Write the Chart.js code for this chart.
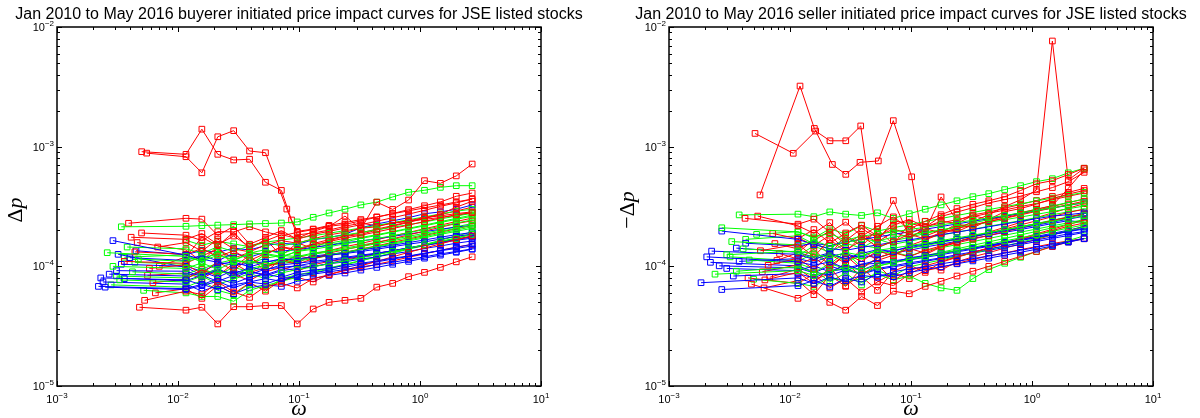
<!DOCTYPE html>
<html>
<head>
<meta charset="utf-8">
<script src="https://cdn.jsdelivr.net/npm/chart.js@4.4.1/dist/chart.umd.min.js"></script>
<style>
  html, body { margin: 0; padding: 0; background: #fff; }
  #wrap { position: relative; width: 1200px; height: 418px; overflow: hidden; }
  canvas { position: absolute; top: 0; }
  #buy { left: 0; }
  #sell { left: 600px; }
</style>
</head>
<body>
<div id="wrap">
  <canvas id="buy" width="600" height="418"></canvas>
  <canvas id="sell" width="600" height="418"></canvas>
</div>
<script>
// Normalised volume bins (ω) shared by most curves
const omegaBins = [0.01164, 0.01575, 0.02132, 0.02885, 0.03904, 0.05284, 0.07151, 0.09678, 0.1310,
                   0.1772, 0.2399, 0.3246, 0.4393, 0.5945, 0.8046, 1.089, 1.474, 1.994, 2.699];

// Decade tick labels (10^e)
const xTickExponents = [-3, -2, -1, 0, 1];
const yTickExponents = [-5, -4, -3, -2];

// Δp rows are stored in units of 1e-5.
// Each row: [value at the curve's own first ω, then one value per omegaBins entry]
const DP_UNIT = 1e-5;

// ---------- buyer initiated ----------
const buyBlueLead = [0.0022, 0.0023, 0.0025, 0.0029, 0.0031, 0.0034, 0.0036, 0.0040, 0.0027, 0.0045, 0.0024, 0.0032];
const buyBlue = [
  [6.8, 6.5, 7.1, 6.4, 7.0, 7.4, 7.1, 7.9, 8.2, 8.6, 9.0, 9.4, 9.9, 10.3, 10.8, 11.4, 12.0, 12.7, 13.3, 14.0],
  [8.0, 7.7, 7.0, 7.9, 7.2, 8.1, 8.6, 8.1, 8.9, 9.3, 9.6, 10.2, 10.6, 11.1, 11.7, 12.2, 12.9, 13.5, 14.1, 14.8],
  [6.7, 6.4, 6.9, 7.5, 6.6, 7.4, 7.9, 7.5, 8.5, 8.8, 9.3, 9.8, 10.4, 10.9, 11.5, 12.1, 12.8, 13.6, 14.4, 15.3],
  [16.4, 12.4, 11.5, 10.8, 10.2, 10.6, 10.9, 11.3, 11.6, 11.9, 12.4, 12.8, 13.3, 13.9, 14.6, 15.3, 16.0, 16.9, 17.8, 18.6],
  [9.2, 9.1, 8.2, 9.4, 8.6, 9.8, 9.3, 10.3, 10.6, 11.0, 11.4, 11.9, 12.4, 12.9, 13.5, 14.2, 14.9, 15.7, 16.5, 17.2],
  [10.4, 10.0, 9.1, 10.4, 10.9, 9.9, 10.8, 11.6, 11.2, 12.2, 12.6, 13.1, 13.7, 14.3, 15.0, 15.8, 16.6, 17.5, 18.4, 19.2],
  [7.9, 7.6, 8.4, 7.5, 8.4, 9.1, 8.3, 9.2, 9.6, 10.0, 10.5, 10.9, 11.5, 12.0, 12.7, 13.3, 14.1, 14.8, 15.6, 16.3],
  [11.8, 11.2, 12.4, 11.1, 12.9, 11.9, 13.2, 13.4, 13.8, 14.4, 15.0, 15.7, 16.3, 17.0, 17.8, 18.6, 19.5, 20.4, 21.3, 22.0],
  [8.6, 8.3, 9.0, 8.1, 9.3, 8.5, 9.5, 9.8, 10.1, 10.7, 11.1, 11.7, 12.2, 12.8, 13.5, 14.3, 15.1, 16.0, 16.9, 17.8],
  [13.5, 12.5, 13.6, 13.1, 14.2, 13.7, 14.9, 15.6, 15.2, 16.7, 17.4, 18.5, 21.0, 22.6, 24.0, 25.5, 27.5, 28.5, 30.0, 32.6],
  [7.4, 7.1, 6.2, 6.9, 5.9, 6.6, 7.0, 6.8, 7.5, 7.9, 8.4, 8.8, 9.3, 9.8, 10.4, 11.0, 11.7, 12.4, 13.1, 13.9],
  [12.6, 9.8, 8.4, 9.6, 8.0, 9.1, 8.5, 9.4, 10.2, 9.9, 10.6, 11.3, 11.9, 12.6, 13.4, 14.2, 15.0, 15.9, 16.8, 17.6]
];
const buyGreenLead = [0.0034, 0.0026, 0.0029, 0.0033, 0.0038, 0.0042, 0.0047, 0.0052, 0.0031, null, 0.0044, 0.0028, 0.0036];
const buyGreen = [
  [21.4, 21.6, 21.9, 22.1, 22.3, 22.6, 22.8, 23.0, 23.5, 25.7, 27.9, 30.0, 32.6, 34.4, 38.0, 41.6, 43.2, 45.7, 47.2, 47.2],
  [13.0, 12.1, 11.0, 12.4, 11.2, 12.7, 12.8, 12.1, 13.3, 13.9, 14.6, 15.4, 16.2, 17.1, 18.0, 19.1, 20.3, 21.6, 23.0, 24.4],
  [10.0, 9.6, 10.7, 9.4, 10.9, 11.1, 10.2, 11.5, 12.0, 12.6, 13.2, 13.9, 14.6, 15.5, 16.4, 17.3, 18.4, 19.6, 20.8, 22.0],
  [7.7, 7.4, 8.3, 7.1, 7.8, 8.7, 7.9, 8.8, 9.4, 9.9, 10.5, 11.1, 11.8, 12.5, 13.3, 14.2, 15.1, 16.1, 17.1, 18.5],
  [14.5, 14.0, 12.8, 14.6, 13.3, 14.9, 15.9, 14.8, 15.7, 16.8, 17.5, 18.3, 19.2, 20.2, 21.2, 22.3, 23.5, 24.9, 26.3, 27.8],
  [9.0, 8.6, 9.6, 8.5, 9.8, 9.0, 10.4, 10.8, 11.4, 11.9, 12.5, 13.1, 13.9, 14.7, 15.6, 16.6, 17.7, 18.9, 20.1, 21.4],
  [11.5, 11.0, 11.8, 12.6, 11.3, 12.9, 13.8, 12.7, 14.2, 14.9, 15.6, 16.5, 17.4, 18.4, 19.5, 20.8, 22.1, 23.6, 25.2, 26.8],
  [6.3, 6.0, 5.6, 5.6, 5.1, 6.3, 6.9, 7.5, 8.1, 8.8, 9.5, 10.3, 11.1, 12.0, 13.0, 14.1, 15.2, 16.5, 17.9, 19.4],
  [8.3, 8.0, 8.8, 9.3, 8.4, 9.6, 10.2, 10.5, 11.1, 11.6, 12.3, 12.9, 13.7, 14.5, 15.3, 16.3, 17.3, 18.5, 19.6, 20.8],
  [null, 16.5, 15.0, 16.2, 15.4, 14.6, 15.9, 16.6, 17.2, 18.0, 18.9, 19.9, 20.9, 22.0, 23.2, 24.5, 25.9, 27.4, 28.9, 30.0],
  [10.8, 10.4, 9.5, 10.6, 11.4, 10.6, 11.7, 12.3, 12.1, 12.9, 13.5, 14.2, 15.0, 15.9, 16.8, 17.8, 18.9, 20.1, 21.4, 22.8],
  [7.0, 6.7, 7.6, 6.3, 5.8, 7.2, 6.4, 7.9, 8.5, 9.0, 9.7, 10.4, 11.2, 12.0, 12.9, 13.9, 14.9, 16.1, 17.3, 18.6],
  [11.9, 12.5, 10.8, 13.6, 11.5, 10.3, 12.6, 11.8, 13.4, 14.3, 15.1, 16.0, 17.1, 18.1, 19.3, 20.5, 21.8, 23.2, 24.7, 26.2]
];
const buyRedLead = [0.0041, 0.0048, 0.0053, 0.0039, 0.0044, 0.0058, 0.0050, 0.0062, 0.0036, 0.0068, 0.0056, 0.0065, 0.0070, 0.0046];
const buyRed = [
  [17.5, 16.8, 18.8, 15.2, 17.9, 14.6, 16.3, 18.4, 17.1, 19.6, 21.5, 26.3, 20.5, 34.4, 29.9, 35.8, 52.0, 49.4, 57.0, 71.6],
  [4.55, 4.3, 4.55, 3.3, 4.6, 4.6, 4.7, 4.7, 3.3, 4.4, 5.0, 5.2, 5.4, 6.7, 7.2, 8.2, 8.9, 9.8, 10.9, 12.0],
  [5.2, 6.2, 5.8, 7.4, 6.1, 5.5, 6.8, 7.2, 6.6, 7.9, 8.5, 9.3, 10.1, 11.0, 12.0, 13.1, 14.2, 15.4, 16.7, 18.0],
  [22.9, 25.2, 24.8, 18.1, 21.6, 15.3, 17.4, 19.9, 16.8, 18.5, 19.6, 20.9, 22.3, 23.8, 25.5, 27.3, 29.4, 31.7, 33.9, 36.5],
  [13.2, 12.6, 14.1, 12.0, 13.5, 11.2, 12.8, 14.4, 13.6, 15.2, 16.1, 17.2, 18.2, 19.4, 20.7, 22.1, 23.7, 25.4, 27.1, 28.0],
  [9.6, 10.3, 8.7, 10.9, 9.2, 11.8, 10.1, 10.7, 12.3, 11.5, 12.9, 13.8, 14.7, 15.8, 17.0, 18.3, 19.7, 21.2, 22.8, 24.0],
  [19.0, 18.2, 16.4, 19.5, 19.4, 21.4, 19.4, 18.0, 19.2, 20.3, 21.6, 22.4, 24.0, 25.7, 27.6, 29.8, 32.1, 34.5, 38.5, 41.0],
  [7.3, 7.8, 9.4, 8.3, 10.6, 8.9, 9.7, 11.2, 10.4, 11.6, 12.4, 13.1, 14.0, 14.8, 15.9, 16.9, 18.1, 19.3, 20.6, 22.0],
  [11.0, 10.6, 12.2, 13.9, 11.7, 13.1, 12.5, 14.6, 13.8, 15.5, 16.7, 18.0, 19.0, 20.5, 21.9, 23.6, 25.4, 27.3, 31.2, 35.0],
  [14.5, 15.8, 13.4, 16.9, 14.0, 13.2, 15.1, 16.4, 15.6, 17.0, 18.3, 19.3, 20.8, 21.4, 23.1, 24.0, 25.6, 26.4, 27.6, 28.5],
  [8.4, 8.8, 7.9, 9.3, 8.6, 7.6, 9.0, 9.8, 9.1, 10.3, 11.0, 11.5, 12.1, 12.8, 13.5, 14.2, 14.9, 15.8, 16.7, 17.8],
  [6.0, 6.5, 5.4, 6.9, 5.9, 7.3, 6.2, 7.7, 8.1, 7.4, 8.6, 9.2, 9.7, 10.4, 11.1, 11.9, 12.7, 13.6, 14.5, 15.2],
  [10.0, 12.0, 17.5, 14.8, 19.3, 13.9, 16.9, 12.2, 15.7, 14.1, 16.4, 17.8, 18.5, 20.1, 21.6, 23.3, 25.1, 27.0, 29.0, 31.2],
  [15.8, 13.7, 10.9, 14.9, 9.8, 12.4, 8.9, 11.6, 10.5, 12.7, 13.5, 14.6, 15.5, 16.7, 17.9, 19.2, 20.6, 22.1, 23.7, 25.3]
];
// Two illiquid stocks with their own ω values
const buyRedOddOmega = [
  [0.00501, 0.01164, 0.01575, 0.02132, 0.02885, 0.03904, 0.05284, 0.07151, 0.0868, 0.09678, 0.1310, 0.1772, 0.2399, 0.3246, 0.4393, 0.5945, 0.8046, 1.089, 1.474, 1.994, 2.699],
  [0.00551, 0.01164, 0.01575, 0.02132, 0.02885, 0.03904, 0.05284, 0.0793, 0.09678, 0.1310, 0.1772, 0.2399, 0.3246, 0.4393, 0.5945, 0.8046, 1.089, 1.474, 1.994, 2.699]
];
const buyRedOdd = [
  [90.8, 86.3, 140, 86.3, 77.4, 78.5, 50.4, 43.1, 24.4, 19.6, 20.5, 22.0, 23.2, 24.6, 25.9, 27.5, 29.1, 30.8, 32.5, 34.5, 36.5],
  [88.3, 82.4, 60.5, 121, 136, 92.0, 89.0, 30.1, 18.3, 19.0, 20.1, 21.6, 23.0, 21.8, 22.9, 23.8, 24.7, 25.6, 26.6, 28.0]
];

// ---------- seller initiated ----------
const sellBlueLead = [0.00184, 0.00273, 0.00205, 0.00225, 0.00273, 0.0030, 0.0034, 0.0038, 0.0026, 0.0043, 0.0022, 0.0036];
const sellBlue = [
  [7.3, 8.0, 7.2, 8.1, 7.6, 8.4, 8.1, 9.0, 9.5, 9.9, 10.5, 11.0, 11.6, 12.2, 12.9, 13.6, 14.4, 15.2, 16.1, 17.1],
  [6.4, 6.9, 7.6, 6.8, 7.9, 7.4, 8.6, 8.2, 8.9, 9.4, 9.9, 10.5, 11.1, 11.7, 12.4, 13.1, 13.9, 14.8, 15.9, 17.0],
  [12.0, 10.9, 10.2, 10.9, 9.6, 10.4, 11.2, 10.7, 11.8, 12.3, 12.9, 13.5, 14.2, 14.9, 15.7, 16.6, 17.5, 18.5, 19.6, 20.8],
  [13.4, 12.6, 11.4, 12.7, 11.6, 12.8, 13.8, 13.3, 14.7, 15.3, 16.1, 16.9, 17.8, 18.7, 19.8, 20.9, 22.1, 23.4, 24.8, 26.2],
  [19.7, 16.8, 15.2, 14.1, 13.6, 14.4, 15.1, 15.9, 16.6, 17.5, 18.4, 19.3, 20.3, 21.4, 22.6, 23.8, 25.0, 26.3, 27.0, 28.0],
  [9.6, 9.2, 10.1, 9.0, 10.3, 9.3, 10.5, 10.8, 11.3, 11.9, 12.5, 13.2, 13.9, 14.7, 15.5, 16.4, 17.4, 18.4, 19.5, 20.5],
  [8.3, 8.7, 8.0, 9.1, 9.5, 8.7, 9.6, 10.1, 10.7, 11.2, 11.8, 12.5, 13.2, 14.0, 14.8, 15.7, 16.6, 17.6, 18.7, 19.5],
  [11.0, 11.6, 10.8, 12.2, 12.8, 11.6, 12.8, 13.6, 14.3, 15.1, 16.0, 16.9, 17.9, 19.0, 20.1, 21.4, 22.7, 24.1, 25.6, 27.2],
  [10.1, 9.7, 8.8, 10.1, 9.1, 10.4, 10.6, 11.1, 11.6, 12.2, 12.8, 13.5, 14.2, 15.0, 15.9, 16.8, 17.8, 18.9, 20.0, 21.5],
  [15.6, 14.8, 15.6, 14.9, 16.0, 16.8, 17.6, 18.5, 19.4, 20.4, 21.5, 22.6, 23.8, 25.0, 26.3, 27.7, 29.2, 30.7, 32.3, 34.0],
  [10.8, 10.1, 9.0, 8.4, 9.3, 8.6, 9.4, 9.9, 10.4, 11.0, 11.6, 12.2, 12.9, 13.6, 14.4, 15.2, 16.1, 17.1, 18.1, 19.2],
  [14.2, 13.1, 11.9, 13.0, 11.4, 12.4, 11.8, 12.9, 13.6, 14.5, 15.3, 16.2, 17.1, 18.1, 19.2, 20.3, 21.5, 22.8, 24.1, 23.3]
];
const sellGreenLead = [0.0038, 0.0024, 0.00273, 0.0030, 0.0033, 0.0036, 0.0041, 0.0046, 0.0050, 0.0053, null, 0.0032, 0.0043];
const sellGreen = [
  [26.9, 27.3, 26.0, 28.5, 27.3, 26.6, 28.0, 25.2, 27.5, 30.0, 32.6, 35.3, 38.2, 40.5, 43.8, 47.2, 51.0, 54.0, 60.5, 66.0],
  [8.6, 9.2, 8.4, 9.0, 9.8, 9.3, 10.1, 10.7, 11.4, 12.0, 12.8, 13.6, 14.4, 15.3, 16.3, 17.3, 18.4, 19.6, 20.9, 22.2],
  [21.0, 19.4, 17.6, 18.8, 16.5, 17.9, 18.6, 19.4, 20.3, 21.2, 22.2, 23.2, 24.3, 25.4, 26.6, 27.9, 29.3, 30.8, 32.4, 34.0],
  [12.5, 13.4, 12.7, 11.8, 13.1, 12.3, 13.6, 14.2, 14.9, 15.6, 16.4, 17.3, 18.2, 19.2, 20.2, 21.3, 22.5, 23.8, 25.1, 26.5],
  [16.1, 15.1, 16.4, 14.7, 15.8, 17.0, 16.2, 17.6, 18.3, 19.2, 20.1, 21.1, 22.2, 23.3, 24.5, 25.8, 27.2, 28.7, 30.3, 31.9],
  [9.1, 9.9, 8.9, 10.5, 9.6, 8.5, 10.0, 10.8, 11.5, 12.3, 13.1, 14.0, 15.0, 16.0, 17.1, 18.3, 19.6, 21.0, 22.5, 24.0],
  [14.0, 13.2, 11.4, 12.9, 11.0, 12.2, 13.5, 12.8, 14.1, 14.9, 15.8, 16.8, 17.8, 18.9, 20.1, 21.4, 22.8, 24.3, 25.9, 27.6],
  [11.3, 10.6, 9.5, 7.4, 8.8, 7.0, 9.2, 8.3, 9.9, 10.6, 11.3, 12.1, 12.9, 13.8, 14.8, 15.9, 17.1, 18.4, 19.8, 21.3],
  [7.8, 7.2, 6.8, 8.1, 7.4, 7.9, 8.6, 7.7, 8.3, 7.2, 6.6, 6.3, 7.9, 9.4, 10.6, 11.9, 13.3, 14.8, 16.4, 18.0],
  [18.5, 19.5, 17.2, 20.6, 18.6, 21.9, 19.7, 21.0, 22.3, 23.7, 25.1, 26.6, 28.2, 29.8, 31.5, 33.3, 35.2, 37.2, 39.3, 41.5],
  [null, 12.3, 14.8, 13.1, 15.6, 14.2, 16.9, 15.3, 16.2, 17.2, 18.2, 19.3, 20.4, 21.6, 22.8, 24.1, 25.5, 27.0, 28.5, 30.0],
  [12.0, 11.1, 12.7, 10.4, 13.3, 9.8, 11.7, 13.1, 12.2, 13.5, 14.3, 15.2, 16.1, 17.1, 18.2, 19.3, 20.5, 21.8, 23.1, 24.6],
  [16.8, 18.0, 15.4, 13.9, 17.4, 15.0, 14.2, 16.3, 17.5, 18.8, 20.1, 21.5, 23.0, 24.6, 26.3, 28.1, 30.0, 32.0, 34.2, 36.5]
];
const sellRedLead = [0.00425, 0.00541, 0.0048, 0.0062, 0.0057, 0.0066, 0.0072, 0.0059, 0.0082, 0.0045, 0.0075, 0.0068, null, 0.0078, 0.0061];
const sellRed = [
  [25.2, 22.5, 24.8, 19.2, 23.4, 17.8, 21.6, 25.9, 20.4, 23.8, 27.0, 30.4, 33.0, 35.3, 38.2, 43.0, 49.0, 52.0, 58.5, 66.0],
  [26.3, 21.8, 18.9, 23.2, 16.4, 20.7, 17.3, 22.0, 24.7, 21.3, 26.1, 28.4, 30.9, 33.9, 36.1, 38.6, 42.0, 45.5, 51.0, 61.0],
  [7.1, 5.4, 6.3, 5.0, 4.3, 5.6, 4.7, 6.2, 5.9, 6.8, 7.5, 8.3, 9.1, 10.0, 11.0, 12.1, 13.3, 14.6, 16.0, 17.0],
  [7.7, 8.9, 7.2, 9.8, 6.9, 8.5, 10.4, 7.6, 9.2, 10.1, 11.0, 12.0, 13.1, 14.2, 15.5, 16.8, 18.3, 19.9, 21.6, 23.0],
  [13.5, 15.3, 12.0, 16.8, 13.2, 17.9, 14.5, 16.1, 18.6, 16.9, 19.2, 20.8, 22.0, 23.7, 25.2, 26.9, 28.8, 30.7, 32.8, 35.0],
  [10.2, 11.7, 9.4, 12.6, 10.6, 13.8, 11.2, 12.4, 14.1, 12.9, 14.6, 15.7, 16.9, 18.1, 19.5, 20.9, 22.4, 24.1, 25.8, 27.5],
  [18.8, 17.0, 20.3, 15.6, 19.0, 22.1, 17.8, 20.5, 18.7, 21.3, 23.8, 22.9, 26.5, 24.7, 28.6, 30.4, 33.1, 36.7, 40.2, 43.0],
  [9.0, 10.3, 11.8, 9.6, 12.7, 11.0, 13.5, 12.2, 14.9, 16.6, 18.8, 20.4, 23.7, 27.0, 31.5, 36.0, 43.5, 764, 52.6, 66.0],
  [12.8, 11.5, 13.9, 10.2, 12.3, 9.5, 11.8, 13.0, 12.0, 13.6, 14.8, 16.1, 17.5, 18.9, 20.5, 22.2, 24.0, 26.0, 28.2, 30.0],
  [8.0, 7.2, 8.6, 6.6, 7.9, 6.1, 7.4, 8.8, 7.9, 9.2, 9.8, 10.6, 11.4, 12.2, 12.9, 13.8, 14.6, 15.5, 16.3, 17.1],
  [15.5, 14.0, 16.4, 19.8, 15.2, 18.5, 16.0, 19.3, 17.4, 20.6, 19.1, 22.7, 21.0, 24.3, 26.0, 27.9, 30.0, 32.2, 44.8, 64.0],
  [8.1, 9.5, 7.8, 8.6, 10.7, 8.2, 6.3, 9.1, 10.3, 8.9, 10.8, 11.9, 13.0, 14.3, 15.6, 17.1, 18.7, 20.4, 22.3, 24.4],
  [null, 17.4, 14.9, 18.2, 13.6, 16.5, 19.4, 35.5, 17.6, 19.9, 38.0, 24.1, 26.9, 28.4, 30.6, 32.9, 35.5, 38.4, 41.5, 44.8],
  [11.2, 13.0, 16.8, 12.4, 18.3, 14.6, 20.5, 15.2, 22.8, 17.9, 20.1, 19.5, 22.3, 23.6, 25.4, 27.3, 29.4, 31.6, 34.0, 36.5],
  [6.6, 7.6, 5.8, 8.4, 6.8, 9.7, 7.5, 6.9, 8.6, 10.1, 9.3, 10.9, 12.0, 13.0, 14.2, 15.4, 16.8, 18.3, 19.9, 21.6]
];
const sellRedOddOmega = [
  [0.00514, 0.01064, 0.0163, 0.0214, 0.0289, 0.0384, 0.0528, 0.0715, 0.0968, 0.1310, 0.1772, 0.2399, 0.3246, 0.4393, 0.5945, 0.8046, 1.089, 1.474, 1.994, 2.699],
  [0.00565, 0.0121, 0.0159, 0.0224, 0.0289, 0.0379, 0.0537, 0.0714, 0.1013, 0.1310, 0.1772, 0.2399, 0.3246, 0.4393, 0.5945, 0.8046, 1.089, 1.474, 1.994, 2.699]
];
const sellRedOdd = [
  [129, 88.0, 135, 112, 112, 149, 16.5, 24.0, 22.8, 21.5, 23.0, 24.6, 26.0, 27.8, 29.5, 31.6, 33.5, 36.0, 38.5, 41.0],
  [39.5, 321, 142, 71.0, 58.7, 74.0, 76.0, 165, 56.0, 12.5, 14.5, 16.0, 17.6, 19.3, 21.2, 23.3, 25.5, 28.0, 30.6, 33.4]
];

const RED = '#ff0000', GREEN = '#00ff00', BLUE = '#0000ff';
const SANS = '"Liberation Sans", Arial, Helvetica, sans-serif';
const SERIF = '"Liberation Serif", "DejaVu Serif", "Times New Roman", serif';

function binnedCurve(leadOmega, row) {
  const pts = [];
  if (leadOmega !== null && row[0] !== null) pts.push({ x: leadOmega, y: row[0] * DP_UNIT });
  omegaBins.forEach((w, k) => {
    const v = row[k + 1];
    if (v !== null && v !== undefined) pts.push({ x: w, y: v * DP_UNIT });
  });
  return pts;
}

function pairedCurve(omegas, vals) {
  return omegas.map((w, i) => ({ x: w, y: vals[i] * DP_UNIT }));
}

function styled(points, color) {
  return {
    data: points,
    borderColor: color,
    borderWidth: 1,
    pointStyle: 'rect',
    pointRadius: 4,
    pointHoverRadius: 4,
    pointBorderWidth: 1,
    pointBorderColor: color,
    pointBackgroundColor: 'rgba(0,0,0,0)',
    fill: false,
    tension: 0
  };
}

function panelDatasets(groups, odd) {
  const out = [];
  const n = Math.max(...groups.map(g => g.rows.length));
  for (let i = 0; i < n; i++) {
    groups.forEach(g => {
      if (i < g.rows.length) out.push(styled(binnedCurve(g.lead[i], g.rows[i]), g.color));
    });
  }
  odd.omega.forEach((om, i) => out.push(styled(pairedCurve(om, odd.vals[i]), odd.color)));
  return out;
}

// "10" with a raised exponent
function powerLabel(ctx, e, x, baseline, align) {
  const base = '10';
  const sup = (e < 0 ? '\u2212' : '') + Math.abs(e);
  ctx.font = '11px ' + SANS;
  const wb = ctx.measureText(base).width;
  ctx.font = '8px ' + SANS;
  const ws = ctx.measureText(sup).width;
  const total = wb + ws;
  const start = align === 'center' ? x - total / 2 : x - total;
  ctx.textAlign = 'left';
  ctx.textBaseline = 'alphabetic';
  ctx.font = '11px ' + SANS;
  ctx.fillText(base, start, baseline);
  ctx.font = '8px ' + SANS;
  ctx.fillText(sup, start + wb, baseline - 5);
}

// mixed upright / italic math text, centred on (0,0) horizontally, baseline at 0
function mathText(ctx, parts, size) {
  const fonts = parts.map(p => (p.italic ? 'italic ' : '') + size + 'px ' + SERIF);
  const widths = parts.map((p, i) => { ctx.font = fonts[i]; return ctx.measureText(p.t).width; });
  let x = -widths.reduce((a, b) => a + b, 0) / 2;
  ctx.textAlign = 'left';
  ctx.textBaseline = 'alphabetic';
  parts.forEach((p, i) => { ctx.font = fonts[i]; ctx.fillText(p.t, x, 0); x += widths[i]; });
}

function axesDecor(cfg) {
  return {
    id: 'axesDecor',
    afterDatasetsDraw(chart) {
      const ctx = chart.ctx;
      const a = chart.chartArea;
      const xs = chart.scales.x, ys = chart.scales.y;
      ctx.save();
      ctx.strokeStyle = '#000';
      ctx.fillStyle = '#000';

      // inward ticks on all four sides
      ctx.lineWidth = 1;
      ctx.beginPath();
      xTickExponents.forEach((e, i) => {
        const last = i === xTickExponents.length - 1;
        for (let m = 1; m <= (last ? 1 : 9); m++) {
          const px = Math.round(xs.getPixelForValue(m * Math.pow(10, e))) + 0.5;
          const len = m === 1 ? 5 : 3;
          ctx.moveTo(px, a.bottom); ctx.lineTo(px, a.bottom - len);
          ctx.moveTo(px, a.top); ctx.lineTo(px, a.top + len);
        }
      });
      yTickExponents.forEach((e, i) => {
        const last = i === yTickExponents.length - 1;
        for (let m = 1; m <= (last ? 1 : 9); m++) {
          const py = Math.round(ys.getPixelForValue(m * Math.pow(10, e))) + 0.5;
          const len = m === 1 ? 5 : 3;
          ctx.moveTo(a.left, py); ctx.lineTo(a.left + len, py);
          ctx.moveTo(a.right, py); ctx.lineTo(a.right - len, py);
        }
      });
      ctx.stroke();

      // frame
      ctx.lineWidth = 1.5;
      ctx.strokeRect(a.left, a.top, a.right - a.left, a.bottom - a.top);

      // tick labels
      xTickExponents.forEach(e => powerLabel(ctx, e, xs.getPixelForValue(Math.pow(10, e)), a.bottom + 17, 'center'));
      yTickExponents.forEach(e => {
        const py = ys.getPixelForValue(Math.pow(10, e));
        powerLabel(ctx, e, a.left - 3, py + 4, 'right');
      });

      // title
      const cx = (a.left + a.right) / 2;
      ctx.font = '16px ' + SANS;
      ctx.textAlign = 'center';
      ctx.textBaseline = 'alphabetic';
      ctx.fillText(cfg.title, cx, 19);

      // x axis label
      ctx.save();
      ctx.translate(cx, 415);
      mathText(ctx, [{ t: '\u03C9', italic: true }], 22);
      ctx.restore();

      // y axis label
      ctx.save();
      ctx.translate(a.left - 35, 210);
      ctx.rotate(-Math.PI / 2);
      mathText(ctx, cfg.ylabel, 22);
      ctx.restore();

      ctx.restore();
    }
  };
}

function makeChart(id, datasets, cfg, padding) {
  return new Chart(document.getElementById(id), {
    type: 'line',
    data: { datasets },
    options: {
      responsive: false,
      animation: false,
      events: [],
      layout: { padding },
      plugins: { legend: { display: false }, tooltip: { enabled: false }, title: { display: false } },
      scales: {
        x: { type: 'logarithmic', min: 1e-3, max: 10, display: false },
        y: { type: 'logarithmic', min: 1e-5, max: 1e-2, display: false }
      }
    },
    plugins: [axesDecor(cfg)]
  });
}

makeChart('buy',
  panelDatasets(
    [{ lead: buyRedLead, rows: buyRed, color: RED },
     { lead: buyGreenLead, rows: buyGreen, color: GREEN },
     { lead: buyBlueLead, rows: buyBlue, color: BLUE }],
    { omega: buyRedOddOmega, vals: buyRedOdd, color: RED }),
  { title: 'Jan 2010 to May 2016 buyerer initiated price impact curves for JSE listed stocks',
    ylabel: [{ t: '\u0394', italic: false }, { t: 'p', italic: true }] },
  { left: 57, right: 59, top: 27, bottom: 32 });

makeChart('sell',
  panelDatasets(
    [{ lead: sellRedLead, rows: sellRed, color: RED },
     { lead: sellGreenLead, rows: sellGreen, color: GREEN },
     { lead: sellBlueLead, rows: sellBlue, color: BLUE }],
    { omega: sellRedOddOmega, vals: sellRedOdd, color: RED }),
  { title: 'Jan 2010 to May 2016 seller initiated price impact curves for JSE listed stocks',
    ylabel: [{ t: '\u2212', italic: false }, { t: '\u0394', italic: false }, { t: 'p', italic: true }] },
  { left: 69, right: 47, top: 27, bottom: 32 });
</script>
